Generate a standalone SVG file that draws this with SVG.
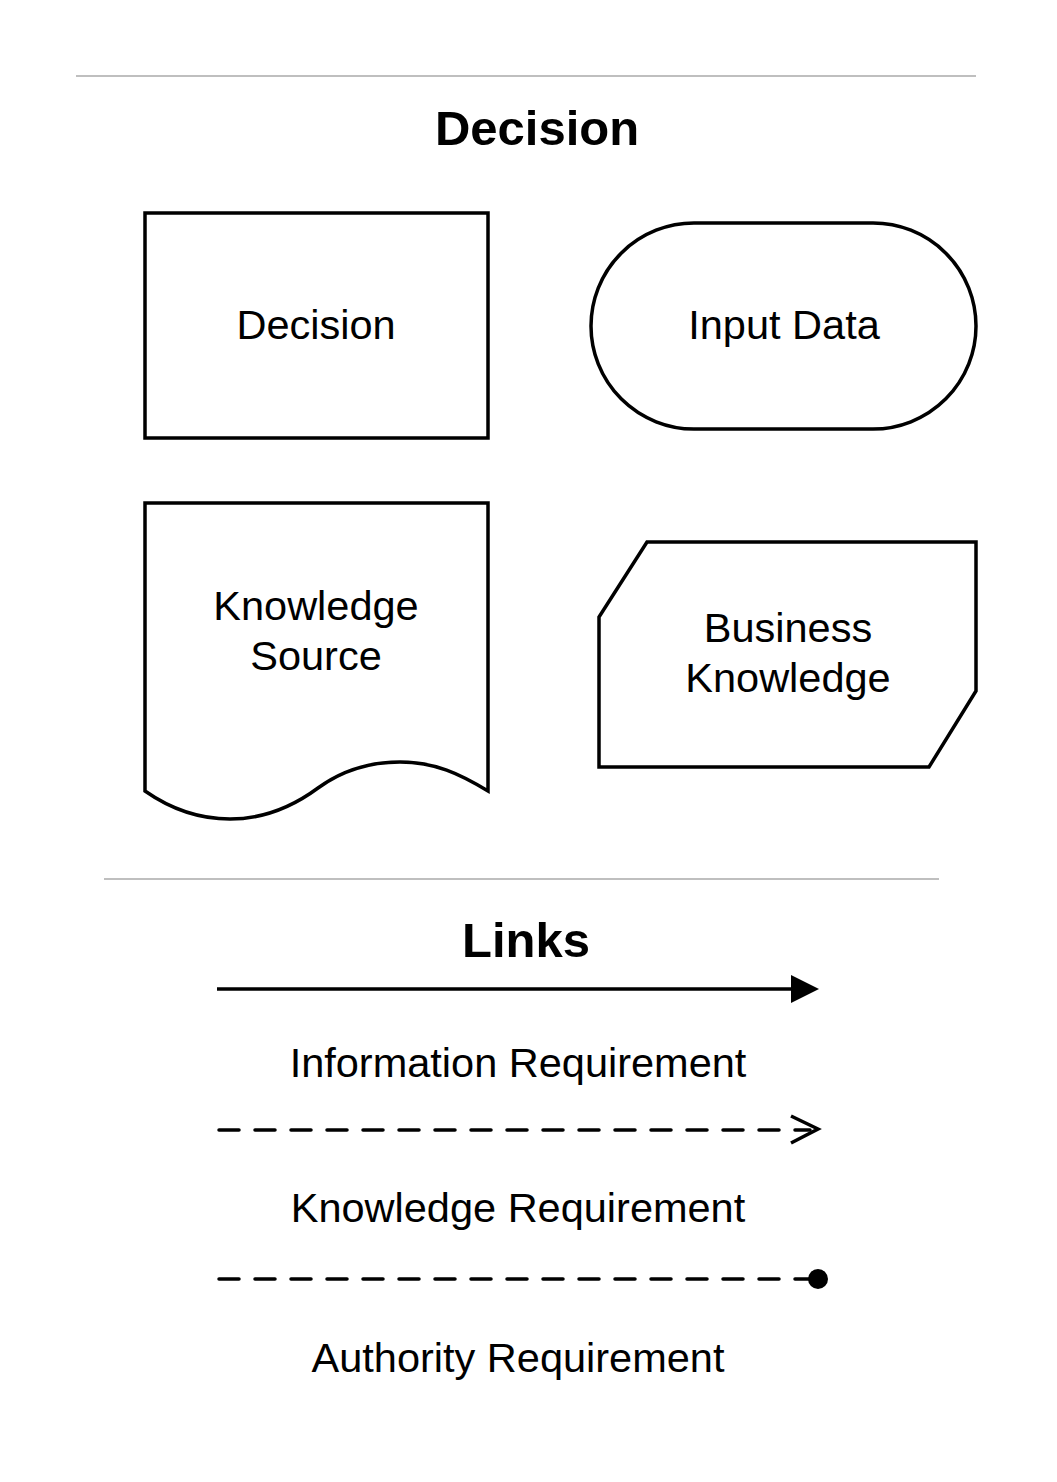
<svg xmlns="http://www.w3.org/2000/svg" width="1057" height="1482" viewBox="0 0 1057 1482">
<style>
.shape{fill:#fff;stroke:#000;stroke-width:3.5;stroke-linejoin:miter}
.lbl{font-family:"Liberation Sans",Arial,sans-serif;font-size:41.5px;fill:#000;text-anchor:middle}
.title{font-family:"Liberation Sans",Arial,sans-serif;font-size:49px;font-weight:bold;fill:#000;text-anchor:middle}
.sep{stroke:#aaaaaa;stroke-width:1.5}
.link{fill:none;stroke:#000;stroke-width:3.5}
.dash{stroke-dasharray:20 16;stroke-linecap:round}
</style>
<rect width="1057" height="1482" fill="#fff"/>
<line class="sep" x1="76" y1="76" x2="976" y2="76"/>
<text class="title" x="537" y="145">Decision</text>
<g id="decision">
<rect class="shape" x="145" y="213" width="343" height="225"/>
<text class="lbl" x="316" y="339">Decision</text>
</g>
<g id="input-data">
<rect class="shape" x="591" y="223" width="385" height="206" rx="103" ry="103"/>
<text class="lbl" x="784" y="339">Input Data</text>
</g>
<g id="knowledge-source">
<path class="shape" d="M145,503 H488 V791 C460,774 435,762 400,762 C365,762 340,772 318,788 C295,805 265,819 230,819 C195,819 165,805 145,791 Z"/>
<text class="lbl" x="316" y="620">Knowledge</text>
<text class="lbl" x="316" y="670">Source</text>
</g>
<g id="business-knowledge">
<path class="shape" d="M647,542 H976 V691 L929,767 H599 V617 Z"/>
<text class="lbl" x="788" y="642">Business</text>
<text class="lbl" x="788" y="692">Knowledge</text>
</g>
<line class="sep" x1="104" y1="879" x2="939" y2="879"/>
<text class="title" x="526" y="957">Links</text>
<g id="connectors">
<g id="information-requirement">
<line class="link" x1="217" y1="989" x2="792" y2="989"/>
<polygon points="791,975 819,989 791,1003" fill="#000"/>
</g>
<g id="knowledge-requirement">
<line class="link dash" x1="219" y1="1130" x2="810" y2="1130"/>
<polyline class="link" points="791,1116 818,1129 791,1143"/>
</g>
<g id="authority-requirement">
<line class="link dash" x1="219" y1="1279" x2="812" y2="1279"/>
<circle cx="818" cy="1279" r="10" fill="#000"/>
</g>
</g>
<text class="lbl" x="518" y="1077">Information Requirement</text>
<text class="lbl" x="518" y="1222">Knowledge Requirement</text>
<text class="lbl" x="518" y="1372">Authority Requirement</text>
</svg>
